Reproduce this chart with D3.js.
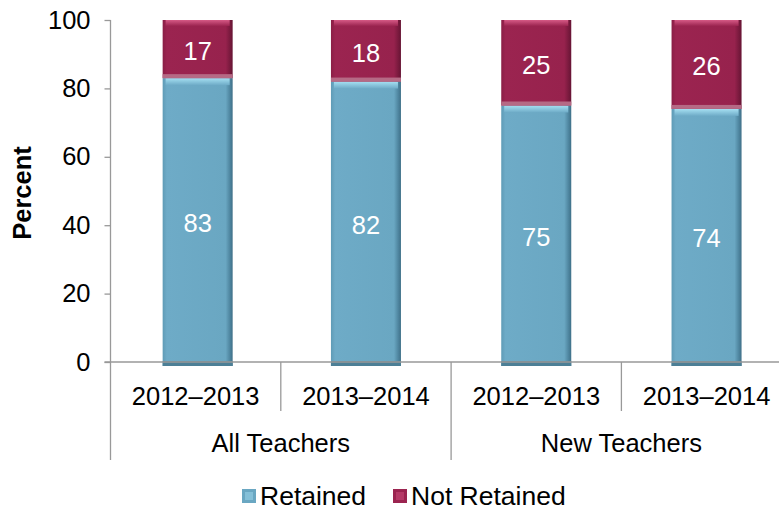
<!DOCTYPE html>
<html>
<head>
<meta charset="utf-8">
<script src="https://d3js.org/d3.v7.min.js"></script>
<style>
  body { margin: 0; background: #fff; font-family: "Liberation Sans", Arial, sans-serif; }
  svg text { font-family: "Liberation Sans", Arial, sans-serif; }
</style>
</head>
<body>
<svg id="chart" width="779" height="510"></svg>
<script>
// data
var groups = ["All Teachers", "New Teachers"];
var years = ["2012\u20132013", "2013\u20132014", "2012\u20132013", "2013\u20132014"];
var retained = [83, 82, 75, 74];
var notRetained = [17, 18, 25, 26];
var yTicks = [0, 20, 40, 60, 80, 100];
var seriesNames = ["Retained", "Not Retained"];

var fs = 25.5;
var svg = d3.select("#chart");
var plotLeft = 110.5, plotTop = 20, plotBottom = 362, bandW = 170.3;

var x = d3.scaleBand().domain(d3.range(years.length))
  .range([plotLeft, plotLeft + bandW * years.length]).paddingInner(0).paddingOuter(0);
var y = d3.scaleLinear().domain([0, 100]).range([plotBottom, plotTop]);

// gradients
var defs = svg.append("defs");
function hGrad(id, stops) {
  var g = defs.append("linearGradient").attr("id", id).attr("x1", 0).attr("x2", 1).attr("y1", 0).attr("y2", 0);
  stops.forEach(function(s) { g.append("stop").attr("offset", s[0]).attr("stop-color", s[1]); });
}
function vGrad(id, stops) {
  var g = defs.append("linearGradient").attr("id", id).attr("x1", 0).attr("x2", 0).attr("y1", 0).attr("y2", 1);
  stops.forEach(function(s) { g.append("stop").attr("offset", s[0]).attr("stop-color", s[1]); });
}
hGrad("blueG", [[0, "#5f9bb6"], [0.06, "#6eabc7"], [0.9, "#6aa7c2"], [0.96, "#4f86a0"], [1, "#3f7088"]]);
hGrad("redG", [[0, "#8a1e46"], [0.06, "#9b2450"], [0.9, "#97224d"], [0.96, "#7a1a3e"], [1, "#661434"]]);
vGrad("blueTop", [[0, "#a6e0f2"], [1, "#6eabc7"]]);
vGrad("redTop", [[0, "#d65a86"], [1, "#9b2450"]]);

// y axis
var yAxis = d3.axisLeft(y).tickValues(yTicks).tickSize(6).tickPadding(14);
var ya = svg.append("g").attr("transform", "translate(" + plotLeft + ",0)").call(yAxis);
ya.select(".domain").remove();
ya.selectAll("line").attr("stroke", "#999").attr("stroke-width", 1.3);
ya.selectAll("text").attr("font-size", fs).attr("fill", "#000");
svg.append("line").attr("x1", plotLeft).attr("x2", plotLeft).attr("y1", plotTop).attr("y2", 460)
  .attr("stroke", "#999").attr("stroke-width", 1.3);

svg.append("text").attr("transform", "translate(31," + ((plotTop + plotBottom) / 2 + 2) + ") rotate(-90)")
  .attr("text-anchor", "middle").attr("font-size", fs).attr("font-weight", "bold").text("Percent");

var barW = 70;
var bars = svg.append("g");
years.forEach(function(yr, i) {
  var cx = x(i) + x.bandwidth() / 2 + (i === 0 ? 2 : 0);
  var bx = cx - barW / 2;
  // retained
  var r0 = y(0) + 4, r1 = y(retained[i]);
  bars.append("rect").attr("x", bx).attr("y", r1).attr("width", barW).attr("height", r0 - r1)
    .attr("fill", "url(#blueG)");
  bars.append("rect").attr("x", bx + 3).attr("y", r1).attr("width", barW - 6).attr("height", 7)
    .attr("fill", "url(#blueTop)");
  bars.append("rect").attr("x", bx).attr("y", r0 - 5).attr("width", barW).attr("height", 5)
    .attr("fill", "#4c7f96");
  // not retained
  var n1 = y(retained[i] + notRetained[i]);
  bars.append("rect").attr("x", bx).attr("y", n1).attr("width", barW).attr("height", r1 - n1)
    .attr("fill", "url(#redG)");
  bars.append("rect").attr("x", bx + 3).attr("y", n1).attr("width", barW - 6).attr("height", 6)
    .attr("fill", "url(#redTop)");
  bars.append("rect").attr("x", bx).attr("y", r1 - 4).attr("width", barW).attr("height", 4)
    .attr("fill", "#b56a85");
  // labels
  bars.append("text").attr("x", cx).attr("y", (r1 + y(0)) / 2 + 12).attr("text-anchor", "middle")
    .attr("font-size", fs).attr("fill", "#fff").text(retained[i]);
  bars.append("text").attr("x", cx).attr("y", (n1 + r1) / 2 + 11).attr("text-anchor", "middle")
    .attr("font-size", fs).attr("fill", "#fff").text(notRetained[i]);
});

// x axis
svg.append("line").attr("x1", plotLeft - 6).attr("x2", 779).attr("y1", plotBottom).attr("y2", plotBottom)
  .attr("stroke", "#999").attr("stroke-width", 1.3);
years.forEach(function(yr, i) {
  var bx = x(i);
  if (i > 0) {
    svg.append("line").attr("x1", bx).attr("x2", bx).attr("y1", plotBottom)
      .attr("y2", i % 2 === 0 ? 460 : 411).attr("stroke", "#999").attr("stroke-width", 1.3);
  }
  svg.append("text").attr("x", bx + x.bandwidth() / 2).attr("y", 405).attr("text-anchor", "middle")
    .attr("font-size", fs).text(yr);
});
groups.forEach(function(g, j) {
  svg.append("text").attr("x", x(j * 2) + x.bandwidth()).attr("y", 452).attr("text-anchor", "middle")
    .attr("font-size", fs).text(g);
});

// legend
var legend = svg.append("g");
var lx = [242, 393];
var lfill = ["#6aa7c2", "#9b2450"];
var lhi = ["#9fd9ee", "#cf4f7d"];
seriesNames.forEach(function(s, k) {
  legend.append("rect").attr("x", lx[k]).attr("y", 489).attr("width", 14).attr("height", 14).attr("fill", lfill[k]);
  legend.append("rect").attr("x", lx[k] + 3).attr("y", 492).attr("width", 8).attr("height", 8)
    .attr("fill", lhi[k]).attr("opacity", 0.5);
  legend.append("text").attr("x", lx[k] + 18).attr("y", 505).attr("font-size", 26.5).text(s);
});
</script>
</body>
</html>
